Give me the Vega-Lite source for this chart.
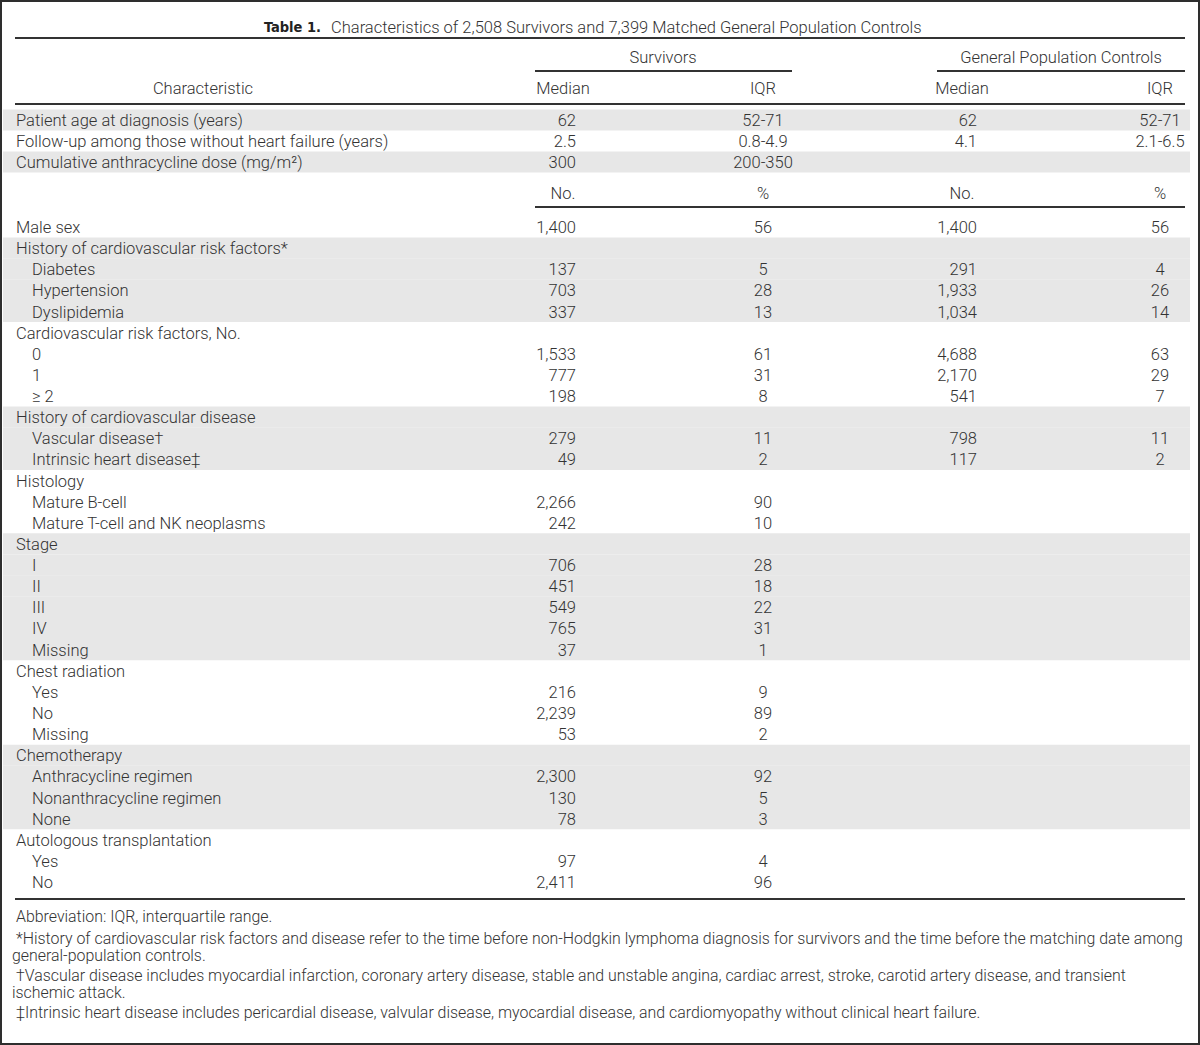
{
  "$schema": "https://vega.github.io/schema/vega-lite/v6.json",
  "width": 1200,
  "height": 1045,
  "padding": 0,
  "autosize": {"type": "none"},
  "background": "white",
  "config": {
    "view": {"stroke": "#2e2e2e", "strokeWidth": 4},
    "text": {"font": "Roboto", "fontWeight": 300, "fontSize": 16.5, "color": "#333333", "baseline": "middle", "dy": 1},
    "rule": {"color": "#333333", "strokeWidth": 2}
  },
  "datasets": {
    "rows": [
      {"r": -5.064, "label": "Patient age at diagnosis (years)", "lvl": 0, "grp": 1, "s1": "62", "s2": "52-71", "g1": "62", "g2": "52-71"},
      {"r": -4.07, "label": "Follow-up among those without heart failure (years)", "lvl": 0, "grp": 2, "s1": "2.5", "s2": "0.8-4.9", "g1": "4.1", "g2": "2.1-6.5"},
      {"r": -3.076, "label": "Cumulative anthracycline dose (mg/m²)", "lvl": 0, "grp": 3, "s1": "300", "s2": "200-350", "g1": "", "g2": ""},
      {"r": 0, "label": "Male sex", "lvl": 0, "grp": 4, "s1": "1,400", "s2": "56", "g1": "1,400", "g2": "56"},
      {"r": 1, "label": "History of cardiovascular risk factors*", "lvl": 0, "grp": 5, "s1": "", "s2": "", "g1": "", "g2": ""},
      {"r": 2, "label": "Diabetes", "lvl": 1, "grp": 5, "s1": "137", "s2": "5", "g1": "291", "g2": "4"},
      {"r": 3, "label": "Hypertension", "lvl": 1, "grp": 5, "s1": "703", "s2": "28", "g1": "1,933", "g2": "26"},
      {"r": 4, "label": "Dyslipidemia", "lvl": 1, "grp": 5, "s1": "337", "s2": "13", "g1": "1,034", "g2": "14"},
      {"r": 5, "label": "Cardiovascular risk factors, No.", "lvl": 0, "grp": 6, "s1": "", "s2": "", "g1": "", "g2": ""},
      {"r": 6, "label": "0", "lvl": 1, "grp": 6, "s1": "1,533", "s2": "61", "g1": "4,688", "g2": "63"},
      {"r": 7, "label": "1", "lvl": 1, "grp": 6, "s1": "777", "s2": "31", "g1": "2,170", "g2": "29"},
      {"r": 8, "label": "≥ 2", "lvl": 1, "grp": 6, "s1": "198", "s2": "8", "g1": "541", "g2": "7"},
      {"r": 9, "label": "History of cardiovascular disease", "lvl": 0, "grp": 7, "s1": "", "s2": "", "g1": "", "g2": ""},
      {"r": 10, "label": "Vascular disease†", "lvl": 1, "grp": 7, "s1": "279", "s2": "11", "g1": "798", "g2": "11"},
      {"r": 11, "label": "Intrinsic heart disease‡", "lvl": 1, "grp": 7, "s1": "49", "s2": "2", "g1": "117", "g2": "2"},
      {"r": 12, "label": "Histology", "lvl": 0, "grp": 8, "s1": "", "s2": "", "g1": "", "g2": ""},
      {"r": 13, "label": "Mature B-cell", "lvl": 1, "grp": 8, "s1": "2,266", "s2": "90", "g1": "", "g2": ""},
      {"r": 14, "label": "Mature T-cell and NK neoplasms", "lvl": 1, "grp": 8, "s1": "242", "s2": "10", "g1": "", "g2": ""},
      {"r": 15, "label": "Stage", "lvl": 0, "grp": 9, "s1": "", "s2": "", "g1": "", "g2": ""},
      {"r": 16, "label": "I", "lvl": 1, "grp": 9, "s1": "706", "s2": "28", "g1": "", "g2": ""},
      {"r": 17, "label": "II", "lvl": 1, "grp": 9, "s1": "451", "s2": "18", "g1": "", "g2": ""},
      {"r": 18, "label": "III", "lvl": 1, "grp": 9, "s1": "549", "s2": "22", "g1": "", "g2": ""},
      {"r": 19, "label": "IV", "lvl": 1, "grp": 9, "s1": "765", "s2": "31", "g1": "", "g2": ""},
      {"r": 20, "label": "Missing", "lvl": 1, "grp": 9, "s1": "37", "s2": "1", "g1": "", "g2": ""},
      {"r": 21, "label": "Chest radiation", "lvl": 0, "grp": 10, "s1": "", "s2": "", "g1": "", "g2": ""},
      {"r": 22, "label": "Yes", "lvl": 1, "grp": 10, "s1": "216", "s2": "9", "g1": "", "g2": ""},
      {"r": 23, "label": "No", "lvl": 1, "grp": 10, "s1": "2,239", "s2": "89", "g1": "", "g2": ""},
      {"r": 24, "label": "Missing", "lvl": 1, "grp": 10, "s1": "53", "s2": "2", "g1": "", "g2": ""},
      {"r": 25, "label": "Chemotherapy", "lvl": 0, "grp": 11, "s1": "", "s2": "", "g1": "", "g2": ""},
      {"r": 26, "label": "Anthracycline regimen", "lvl": 1, "grp": 11, "s1": "2,300", "s2": "92", "g1": "", "g2": ""},
      {"r": 27, "label": "Nonanthracycline regimen", "lvl": 1, "grp": 11, "s1": "130", "s2": "5", "g1": "", "g2": ""},
      {"r": 28, "label": "None", "lvl": 1, "grp": 11, "s1": "78", "s2": "3", "g1": "", "g2": ""},
      {"r": 29, "label": "Autologous transplantation", "lvl": 0, "grp": 12, "s1": "", "s2": "", "g1": "", "g2": ""},
      {"r": 30, "label": "Yes", "lvl": 1, "grp": 12, "s1": "97", "s2": "4", "g1": "", "g2": ""},
      {"r": 31, "label": "No", "lvl": 1, "grp": 12, "s1": "2,411", "s2": "96", "g1": "", "g2": ""}
    ],
    "heads": [
      {"r": -6.578, "label": "Characteristic", "s1": "Median", "s2": "IQR", "g1": "Median", "g2": "IQR"},
      {"r": -1.609, "label": "", "s1": "No.", "s2": "%", "g1": "No.", "g2": "%"}
    ],
    "notes": [
      {"r": 32.61, "cont": 0, "t": "Abbreviation: IQR, interquartile range."},
      {"r": 33.65, "cont": 0, "t": "*History of cardiovascular risk factors and disease refer to the time before non-Hodgkin lymphoma diagnosis for survivors and the time before the matching date among"},
      {"r": 34.45, "cont": 1, "t": "general-population controls."},
      {"r": 35.4, "cont": 0, "t": "†Vascular disease includes myocardial infarction, coronary artery disease, stable and unstable angina, cardiac arrest, stroke, carotid artery disease, and transient"},
      {"r": 36.2, "cont": 1, "t": "ischemic attack."},
      {"r": 37.15, "cont": 0, "t": "‡Intrinsic heart disease includes pericardial disease, valvular disease, myocardial disease, and cardiomyopathy without clinical heart failure."}
    ]
  },
  "layer": [
    {
      "data": {"name": "rows"},
      "transform": [{"filter": "datum.grp % 2 == 1"}],
      "mark": {"type": "rule", "color": "#e7e7e7", "strokeWidth": 21.2, "strokeCap": "butt"},
      "encoding": {
        "y": {"field": "r", "type": "quantitative", "scale": {"domain": [-10.743, 38.713], "reverse": true, "nice": false, "zero": false}, "axis": null},
        "x": {"datum": 3, "type": "quantitative", "scale": {"domain": [0, 1200], "nice": false, "zero": false}, "axis": null},
        "x2": {"datum": 1190}
      }
    },
    {
      "data": {"values": [{"k": "top"}]},
      "mark": {"type": "rule"},
      "encoding": {
        "y": {"datum": -8.945, "type": "quantitative", "scale": {"domain": [-10.743, 38.713], "reverse": true, "nice": false, "zero": false}, "axis": null},
        "x": {"datum": 15, "type": "quantitative", "scale": {"domain": [0, 1200], "nice": false, "zero": false}, "axis": null},
        "x2": {"datum": 1185}
      }
    },
    {
      "data": {"values": [{"k": "survivors"}]},
      "mark": {"type": "rule"},
      "encoding": {
        "y": {"datum": -7.383, "type": "quantitative", "scale": {"domain": [-10.743, 38.713], "reverse": true, "nice": false, "zero": false}, "axis": null},
        "x": {"datum": 535, "type": "quantitative", "scale": {"domain": [0, 1200], "nice": false, "zero": false}, "axis": null},
        "x2": {"datum": 792}
      }
    },
    {
      "data": {"values": [{"k": "controls"}]},
      "mark": {"type": "rule"},
      "encoding": {
        "y": {"datum": -7.383, "type": "quantitative", "scale": {"domain": [-10.743, 38.713], "reverse": true, "nice": false, "zero": false}, "axis": null},
        "x": {"datum": 937, "type": "quantitative", "scale": {"domain": [0, 1200], "nice": false, "zero": false}, "axis": null},
        "x2": {"datum": 1185}
      }
    },
    {
      "data": {"values": [{"k": "header"}]},
      "mark": {"type": "rule"},
      "encoding": {
        "y": {"datum": -5.821, "type": "quantitative", "scale": {"domain": [-10.743, 38.713], "reverse": true, "nice": false, "zero": false}, "axis": null},
        "x": {"datum": 15, "type": "quantitative", "scale": {"domain": [0, 1200], "nice": false, "zero": false}, "axis": null},
        "x2": {"datum": 1185}
      }
    },
    {
      "data": {"values": [{"k": "counts"}]},
      "mark": {"type": "rule"},
      "encoding": {
        "y": {"datum": -0.946, "type": "quantitative", "scale": {"domain": [-10.743, 38.713], "reverse": true, "nice": false, "zero": false}, "axis": null},
        "x": {"datum": 535, "type": "quantitative", "scale": {"domain": [0, 1200], "nice": false, "zero": false}, "axis": null},
        "x2": {"datum": 1185}
      }
    },
    {
      "data": {"values": [{"k": "bottom"}]},
      "mark": {"type": "rule"},
      "encoding": {
        "y": {"datum": 31.8, "type": "quantitative", "scale": {"domain": [-10.743, 38.713], "reverse": true, "nice": false, "zero": false}, "axis": null},
        "x": {"datum": 15, "type": "quantitative", "scale": {"domain": [0, 1200], "nice": false, "zero": false}, "axis": null},
        "x2": {"datum": 1185}
      }
    },
    {
      "data": {"values": [{"t": "Table 1."}]},
      "mark": {"type": "text", "align": "right", "font": "DejaVu Sans Condensed, Liberation Sans, sans-serif", "fontWeight": "bold", "fontSize": 14.5, "color": "#222222"},
      "encoding": {
        "text": {"field": "t"},
        "y": {"datum": -9.465, "type": "quantitative", "scale": {"domain": [-10.743, 38.713], "reverse": true, "nice": false, "zero": false}, "axis": null},
        "x": {"datum": 321, "type": "quantitative", "scale": {"domain": [0, 1200], "nice": false, "zero": false}, "axis": null}
      }
    },
    {
      "data": {"values": [{"t": "Characteristics of 2,508 Survivors and 7,399 Matched General Population Controls"}]},
      "mark": {"type": "text", "align": "left"},
      "encoding": {
        "text": {"field": "t"},
        "y": {"datum": -9.465, "type": "quantitative", "scale": {"domain": [-10.743, 38.713], "reverse": true, "nice": false, "zero": false}, "axis": null},
        "x": {"datum": 331, "type": "quantitative", "scale": {"domain": [0, 1200], "nice": false, "zero": false}, "axis": null}
      }
    },
    {
      "data": {"values": [{"t": "Survivors"}]},
      "mark": {"type": "text", "align": "center"},
      "encoding": {
        "text": {"field": "t"},
        "y": {"datum": -8.045, "type": "quantitative", "scale": {"domain": [-10.743, 38.713], "reverse": true, "nice": false, "zero": false}, "axis": null},
        "x": {"datum": 663, "type": "quantitative", "scale": {"domain": [0, 1200], "nice": false, "zero": false}, "axis": null}
      }
    },
    {
      "data": {"values": [{"t": "General Population Controls"}]},
      "mark": {"type": "text", "align": "center"},
      "encoding": {
        "text": {"field": "t"},
        "y": {"datum": -8.045, "type": "quantitative", "scale": {"domain": [-10.743, 38.713], "reverse": true, "nice": false, "zero": false}, "axis": null},
        "x": {"datum": 1061, "type": "quantitative", "scale": {"domain": [0, 1200], "nice": false, "zero": false}, "axis": null}
      }
    },
    {
      "data": {"name": "heads"},
      "mark": {"type": "text", "align": "center"},
      "encoding": {
        "text": {"field": "label"},
        "y": {"field": "r", "type": "quantitative", "scale": {"domain": [-10.743, 38.713], "reverse": true, "nice": false, "zero": false}, "axis": null},
        "x": {"datum": 203, "type": "quantitative", "scale": {"domain": [0, 1200], "nice": false, "zero": false}, "axis": null}
      }
    },
    {
      "data": {"name": "heads"},
      "mark": {"type": "text", "align": "center"},
      "encoding": {
        "text": {"field": "s1"},
        "y": {"field": "r", "type": "quantitative", "scale": {"domain": [-10.743, 38.713], "reverse": true, "nice": false, "zero": false}, "axis": null},
        "x": {"datum": 563, "type": "quantitative", "scale": {"domain": [0, 1200], "nice": false, "zero": false}, "axis": null}
      }
    },
    {
      "data": {"name": "heads"},
      "mark": {"type": "text", "align": "center"},
      "encoding": {
        "text": {"field": "s2"},
        "y": {"field": "r", "type": "quantitative", "scale": {"domain": [-10.743, 38.713], "reverse": true, "nice": false, "zero": false}, "axis": null},
        "x": {"datum": 763, "type": "quantitative", "scale": {"domain": [0, 1200], "nice": false, "zero": false}, "axis": null}
      }
    },
    {
      "data": {"name": "heads"},
      "mark": {"type": "text", "align": "center"},
      "encoding": {
        "text": {"field": "g1"},
        "y": {"field": "r", "type": "quantitative", "scale": {"domain": [-10.743, 38.713], "reverse": true, "nice": false, "zero": false}, "axis": null},
        "x": {"datum": 962, "type": "quantitative", "scale": {"domain": [0, 1200], "nice": false, "zero": false}, "axis": null}
      }
    },
    {
      "data": {"name": "heads"},
      "mark": {"type": "text", "align": "center"},
      "encoding": {
        "text": {"field": "g2"},
        "y": {"field": "r", "type": "quantitative", "scale": {"domain": [-10.743, 38.713], "reverse": true, "nice": false, "zero": false}, "axis": null},
        "x": {"datum": 1160, "type": "quantitative", "scale": {"domain": [0, 1200], "nice": false, "zero": false}, "axis": null}
      }
    },
    {
      "data": {"name": "rows"},
      "transform": [{"filter": "datum.lvl == 0"}],
      "mark": {"type": "text", "align": "left"},
      "encoding": {
        "text": {"field": "label"},
        "y": {"field": "r", "type": "quantitative", "scale": {"domain": [-10.743, 38.713], "reverse": true, "nice": false, "zero": false}, "axis": null},
        "x": {"datum": 16, "type": "quantitative", "scale": {"domain": [0, 1200], "nice": false, "zero": false}, "axis": null}
      }
    },
    {
      "data": {"name": "rows"},
      "transform": [{"filter": "datum.lvl == 1"}],
      "mark": {"type": "text", "align": "left"},
      "encoding": {
        "text": {"field": "label"},
        "y": {"field": "r", "type": "quantitative", "scale": {"domain": [-10.743, 38.713], "reverse": true, "nice": false, "zero": false}, "axis": null},
        "x": {"datum": 32, "type": "quantitative", "scale": {"domain": [0, 1200], "nice": false, "zero": false}, "axis": null}
      }
    },
    {
      "data": {"name": "rows"},
      "mark": {"type": "text", "align": "right"},
      "encoding": {
        "text": {"field": "s1"},
        "y": {"field": "r", "type": "quantitative", "scale": {"domain": [-10.743, 38.713], "reverse": true, "nice": false, "zero": false}, "axis": null},
        "x": {"datum": 576, "type": "quantitative", "scale": {"domain": [0, 1200], "nice": false, "zero": false}, "axis": null}
      }
    },
    {
      "data": {"name": "rows"},
      "mark": {"type": "text", "align": "center"},
      "encoding": {
        "text": {"field": "s2"},
        "y": {"field": "r", "type": "quantitative", "scale": {"domain": [-10.743, 38.713], "reverse": true, "nice": false, "zero": false}, "axis": null},
        "x": {"datum": 763, "type": "quantitative", "scale": {"domain": [0, 1200], "nice": false, "zero": false}, "axis": null}
      }
    },
    {
      "data": {"name": "rows"},
      "mark": {"type": "text", "align": "right"},
      "encoding": {
        "text": {"field": "g1"},
        "y": {"field": "r", "type": "quantitative", "scale": {"domain": [-10.743, 38.713], "reverse": true, "nice": false, "zero": false}, "axis": null},
        "x": {"datum": 977, "type": "quantitative", "scale": {"domain": [0, 1200], "nice": false, "zero": false}, "axis": null}
      }
    },
    {
      "data": {"name": "rows"},
      "mark": {"type": "text", "align": "center"},
      "encoding": {
        "text": {"field": "g2"},
        "y": {"field": "r", "type": "quantitative", "scale": {"domain": [-10.743, 38.713], "reverse": true, "nice": false, "zero": false}, "axis": null},
        "x": {"datum": 1160, "type": "quantitative", "scale": {"domain": [0, 1200], "nice": false, "zero": false}, "axis": null}
      }
    },
    {
      "data": {"name": "notes"},
      "transform": [{"filter": "datum.cont == 0"}],
      "mark": {"type": "text", "align": "left", "fontSize": 15.9},
      "encoding": {
        "text": {"field": "t"},
        "y": {"field": "r", "type": "quantitative", "scale": {"domain": [-10.743, 38.713], "reverse": true, "nice": false, "zero": false}, "axis": null},
        "x": {"datum": 16, "type": "quantitative", "scale": {"domain": [0, 1200], "nice": false, "zero": false}, "axis": null}
      }
    },
    {
      "data": {"name": "notes"},
      "transform": [{"filter": "datum.cont == 1"}],
      "mark": {"type": "text", "align": "left", "fontSize": 15.9},
      "encoding": {
        "text": {"field": "t"},
        "y": {"field": "r", "type": "quantitative", "scale": {"domain": [-10.743, 38.713], "reverse": true, "nice": false, "zero": false}, "axis": null},
        "x": {"datum": 12, "type": "quantitative", "scale": {"domain": [0, 1200], "nice": false, "zero": false}, "axis": null}
      }
    }
  ]
}
